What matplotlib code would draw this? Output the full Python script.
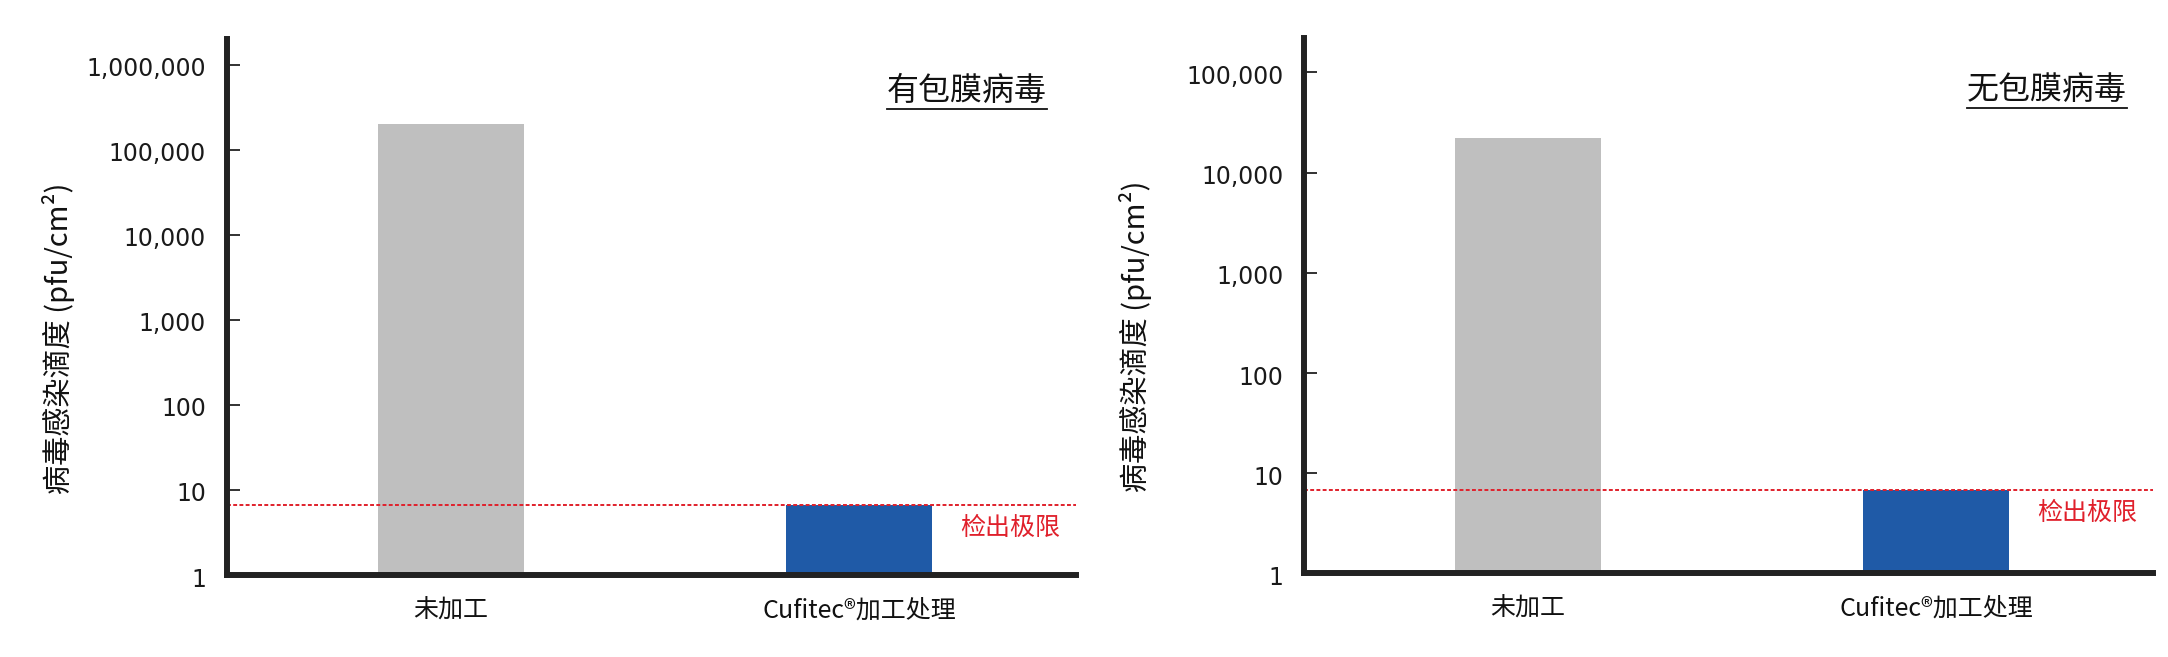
import matplotlib
matplotlib.use("Agg")
import matplotlib.pyplot as plt
from matplotlib.ticker import NullLocator
from matplotlib.lines import Line2D
import matplotlib.transforms as mtransforms

plt.rcParams['font.family'] = ['Noto Sans CJK SC', 'DejaVu Sans']

# data
categories = ["未加工", "Cufitec®加工处理"]
titles = ["有包膜病毒", "无包膜病毒"]
enveloped = [200000, 6.6]
non_enveloped = [22000, 6.8]
detect_limit = [6.6, 6.8]
ticks_left = [1, 10, 100, 1000, 10000, 100000, 1000000]
ticklabels_left = ["1", "10", "100", "1,000", "10,000", "100,000", "1,000,000"]
ticks_right = [1, 10, 100, 1000, 10000, 100000]
ticklabels_right = ["1", "10", "100", "1,000", "10,000", "100,000"]
ytop = [2.0e6, 2.2e5]
ylabel = "病毒感染滴度 (pfu/cm²)"
limit_label = "检出极限"

bar_colors = ["#bfbfbf", "#1f5aa7"]
red = "#e0202b"
dark = "#222222"

fig = plt.figure(figsize=(21.68, 6.57), dpi=100)
ax1 = fig.add_axes([0.1047, 0.1248, 0.3916, 0.8158])
ax2 = fig.add_axes([0.6015, 0.1271, 0.3916, 0.8151])

panels = [
    (ax1, enveloped, ticks_left, ticklabels_left, ytop[0], titles[0], detect_limit[0], 0.966),
    (ax2, non_enveloped, ticks_right, ticklabels_right, ytop[1], titles[1], detect_limit[1], 0.969),
]

title_texts = []
for ax, vals, ticks, tlabels, top, title, lim, tx in panels:
    x = range(len(categories))
    ax.bar(x, vals, width=0.358, color=bar_colors, zorder=1)
    ax.set_yscale("log")
    ax.set_ylim(1, top)
    ax.set_xlim(-0.548, 1.531)
    ax.set_yticks(ticks)
    ax.set_yticklabels(tlabels, family="DejaVu Sans", fontsize=17, color="#1a1a1a")
    ax.yaxis.set_minor_locator(NullLocator())
    ax.set_xticks(list(x))
    ax.set_xticklabels(categories, fontsize=18, color="#111111")
    ax.tick_params(axis="y", direction="in", length=9, width=1.3, color=dark, pad=15)
    ax.tick_params(axis="x", length=0, pad=16)
    for s in ["top", "right"]:
        ax.spines[s].set_visible(False)
    for s in ["left", "bottom"]:
        ax.spines[s].set_linewidth(4.3)
        ax.spines[s].set_color(dark)
        ax.spines[s].set_zorder(3)

    # labels sit a touch below their ticks in the reference
    off = mtransforms.ScaledTranslation(0, -2 / 100, fig.dpi_scale_trans)
    for lab in ax.get_yticklabels():
        lab.set_transform(lab.get_transform() + off)

    ax.axhline(lim, color=red, lw=1.4, ls=(0, (2, 1.2)), zorder=2)
    ax.annotate(limit_label, xy=(0.981, lim), xycoords=("axes fraction", "data"),
                xytext=(0, -23), textcoords="offset pixels",
                ha="right", va="center", fontsize=18, color=red)

    ax.text(-0.199, 0.442, ylabel, transform=ax.transAxes, rotation=90,
            ha="center", va="center", fontsize=21, color="#111111")

    t = ax.text(tx, 0.903, title, transform=ax.transAxes, ha="right", va="center",
                fontsize=23, color="#111111")
    title_texts.append(t)

# underline the titles
fig.canvas.draw()
renderer = fig.canvas.get_renderer()
for t in title_texts:
    bb = t.get_window_extent(renderer)
    x0, x1 = bb.x0 / fig.bbox.width, bb.x1 / fig.bbox.width
    y = (bb.y0 - 2) / fig.bbox.height
    fig.add_artist(Line2D([x0, x1], [y, y], color="#111111", lw=1.3))

fig.savefig("out.png", dpi=100)
